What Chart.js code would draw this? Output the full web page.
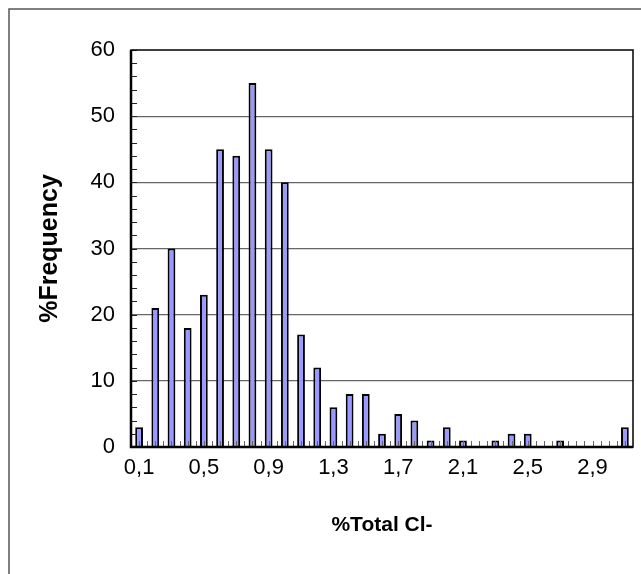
<!DOCTYPE html>
<html>
<head>
<meta charset="utf-8">
<script src="https://cdn.jsdelivr.net/npm/chart.js@4/dist/chart.umd.min.js"></script>
<style>
  html, body { margin: 0; padding: 0; background: #fff; }
  #wrap { position: relative; width: 641px; height: 574px; }
</style>
</head>
<body>
<div id="wrap"><canvas id="c" width="641" height="574"></canvas></div>
<script>
const categories = [0.1,0.2,0.3,0.4,0.5,0.6,0.7,0.8,0.9,1.0,1.1,1.2,1.3,1.4,1.5,1.6,1.7,1.8,1.9,2.0,2.1,2.2,2.3,2.4,2.5,2.6,2.7,2.8,2.9,3.0,3.1];
const frequency  = [3,21,30,18,23,45,44,55,45,40,17,12,6,8,8,2,5,4,1,3,1,0,1,2,2,0,1,0,0,0,3];
const yTicks = [0,10,20,30,40,50,60];
const xTitle = '%Total Cl-';
const yTitle = '%Frequency';

const labels = categories.map(v => v.toFixed(1).replace('.', ','));
const FONT = '"Liberation Sans", Arial, sans-serif';

const decor = {
  id: 'decor',
  beforeDraw(chart) {
    const ctx = chart.ctx;
    ctx.save();
    ctx.fillStyle = '#fff';
    ctx.fillRect(0, 0, chart.width, chart.height);
    ctx.strokeStyle = '#555';
    ctx.lineWidth = 1.5;
    ctx.strokeRect(9, 9, chart.width + 20, chart.height + 20);
    ctx.restore();
  },
  afterDatasetsDraw(chart) {
    const ctx = chart.ctx;
    const a = chart.chartArea;
    const x = chart.scales.x, y = chart.scales.y;
    ctx.save();
    ctx.strokeStyle = '#666';
    ctx.lineWidth = 1;
    const n = categories.length;
    const w = x.getPixelForValue(1) - x.getPixelForValue(0);
    for (let i = 0; i < n; i++) {
      const c = x.getPixelForValue(i);
      const b = c + w / 2;
      ctx.beginPath();
      ctx.moveTo(Math.round(c) + 0.5, a.bottom);
      ctx.lineTo(Math.round(c) + 0.5, a.bottom - 6);
      ctx.stroke();
      if (i < n - 1) {
        ctx.beginPath();
        ctx.moveTo(Math.round(b) + 0.5, a.bottom);
        ctx.lineTo(Math.round(b) + 0.5, a.bottom - 6);
        ctx.stroke();
      }
    }
    ctx.strokeStyle = '#222';
    for (let v = 0; v <= 60; v += 2) {
      const p = Math.round(y.getPixelForValue(v)) + 0.5;
      ctx.beginPath();
      ctx.moveTo(a.left, p);
      ctx.lineTo(a.left + 6, p);
      ctx.stroke();
    }
    ctx.strokeStyle = '#000';
    ctx.lineWidth = 1.5;
    ctx.strokeRect(a.left, a.top, a.right - a.left, a.bottom - a.top);
    ctx.lineWidth = 2.5;
    ctx.beginPath();
    ctx.moveTo(a.left, a.top); ctx.lineTo(a.left, a.bottom); ctx.lineTo(a.right, a.bottom);
    ctx.stroke();
    ctx.restore();
  }
};

new Chart(document.getElementById('c'), {
  type: 'bar',
  data: {
    labels: labels,
    datasets: [{
      data: frequency,
      backgroundColor: '#9999ff',
      borderColor: '#000',
      borderWidth: 2,
      barPercentage: 0.48,
      categoryPercentage: 1.0
    }]
  },
  options: {
    responsive: false,
    animation: false,
    layout: { padding: { left: 0, top: 50, right: 8, bottom: 0 } },
    plugins: { legend: { display: false }, tooltip: { enabled: false } },
    scales: {
      x: {
        offset: true,
        grid: { display: false, drawTicks: false },
        border: { display: false },
        ticks: {
          autoSkip: false,
          maxRotation: 0,
          padding: 8,
          color: '#000',
          font: { family: FONT, size: 22 },
          callback: function(val, i) { return i % 4 === 0 ? labels[i] : ''; }
        },
        title: {
          display: true, text: xTitle, color: '#000',
          font: { family: FONT, size: 21, weight: 'bold' },
          padding: { top: 0, bottom: 36 }
        },
        afterFit(s) { s.height = 127; }
      },
      y: {
        min: 0, max: 60,
        afterBuildTicks(s) { s.ticks = yTicks.map(v => ({ value: v })); },
        grid: {
          color: (c) => (c.tick && (c.tick.value === 0 || c.tick.value === 60)) ? 'rgba(0,0,0,0)' : '#666',
          lineWidth: 1.2,
          drawTicks: false
        },
        border: { display: false },
        ticks: {
          padding: 16,
          color: '#000',
          font: { family: FONT, size: 22 }
        },
        title: {
          display: true, text: yTitle, color: '#000',
          font: { family: FONT, size: 25, weight: 'bold' },
          padding: { top: 35, bottom: 0 }
        },
        afterFit(s) { s.width = 131; }
      }
    }
  },
  plugins: [decor]
});
</script>
</body>
</html>
